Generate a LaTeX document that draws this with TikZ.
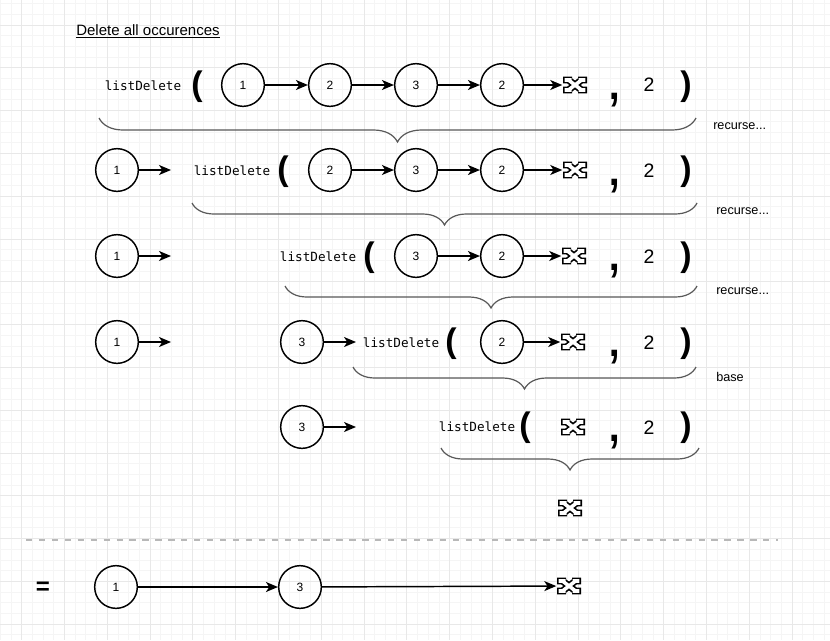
\documentclass[tikz,border=0pt]{standalone}
\usepackage{fontspec}
\setmainfont{Liberation Sans}
\setmonofont{DejaVu Sans Mono}
\usetikzlibrary{arrows.meta,decorations.pathreplacing}

\tikzset{
  gridminor/.style={draw=black!4,line width=0.75pt},
  gridmajor/.style={draw=black!9,line width=0.75pt},
  cnode/.style={circle,draw,line width=1.1pt,minimum size=32pt,inner sep=0pt,
    font=\fontsize{9}{9}\selectfont},
  fname/.style={inner sep=0pt,font=\ttfamily\fontsize{9.5}{10}\selectfont},
  paren/.style={inner sep=0pt,font=\fontsize{25.5}{26}\selectfont\bfseries},
  comma/.style={inner sep=0pt,font=\fontsize{44}{44}\selectfont},
  argval/.style={inner sep=0pt,font=\fontsize{14.6}{15}\selectfont},
  note/.style={anchor=west,inner sep=0pt,font=\fontsize{9.5}{10}\selectfont},
  nilbox/.style={inner sep=0pt,minimum width=18.75pt,minimum height=13pt},
  arr/.style={line width=1.1pt,-{Stealth[length=9pt,width=7.5pt,inset=2.5pt]}},
  brc/.style={decorate,draw=black!65,line width=0.9pt,
    decoration={brace,mirror,amplitude=#1}},
  brc/.default=16.5pt,
  sep/.style={draw=black!28,line width=1.5pt,dash pattern=on 4.7pt off 5pt},
  nilx/.pic={
    % outlined slab-serif cross marking the empty list
    \draw[line width=5.2pt,black]
      (-6.5,-5) -- (6.5,5) (6.5,-5) -- (-6.5,5)
      (-12,-5) -- (-3,-5) (3,-5) -- (12,-5)
      (-12,5) -- (-3,5) (3,5) -- (12,5);
    \draw[line width=2.7pt,white]
      (-6.5,-5) -- (6.5,5) (6.5,-5) -- (-6.5,5)
      (-10.4,-5) -- (-3.5,-5) (3.5,-5) -- (10.4,-5)
      (-10.4,5) -- (-3.5,5) (3.5,5) -- (10.4,5);
  }
}

\begin{document}
\begin{tikzpicture}[x=0.75pt,y=-0.75pt]
\useasboundingbox (0,0) rectangle (830,640);
\fill[white] (0,0) rectangle (830,640);

% background grid
\begin{scope}
\clip (0,0) rectangle (830,640);
\foreach \k in {-2,...,76} \draw[gridminor] ({21.7+\k*10.7},0) -- ({21.7+\k*10.7},640);
\foreach \k in {-3,...,58} \draw[gridminor] (0,{25+\k*10.7}) -- (830,{25+\k*10.7});
\foreach \k in {0,...,19} \draw[gridmajor] ({21.7+\k*42.8},0) -- ({21.7+\k*42.8},640);
\foreach \k in {-1,...,14} \draw[gridmajor] (0,{25+\k*42.8}) -- (830,{25+\k*42.8});
\end{scope}

% title
\node[anchor=base west,inner sep=0pt,font=\fontsize{11.25}{12}\selectfont] (title) at (76,35.5)
  {\underline{Delete all occurences}};

% ---- call 1
\node[fname] (ld1) at (143,86) {listDelete};
\node[paren] (lp1) at (197,87) {(};
\node[cnode] (a1) at (243,85) {1};
\node[cnode] (b1) at (330,85) {2};
\node[cnode] (c1) at (416,85) {3};
\node[cnode] (d1) at (502,85) {2};
\node[nilbox] (n1) at (575,85) {};
\pic at (n1.center) {nilx};
\node[comma] (cm1) at (615,100) {,};
\node[argval] (v1) at (649,85) {2};
\node[paren] (rp1) at (686,87) {)};
\draw[arr] (a1) -- (b1);
\draw[arr] (b1) -- (c1);
\draw[arr] (c1) -- (d1);
\draw[arr] (d1) -- (n1);
\coordinate (bl1) at (99,118);
\coordinate (br1) at (696,118);
\draw[brc=18pt] (bl1) -- (br1);
\node[note] (t1) at (713,126) {recurse...};

% ---- call 2
\node[cnode] (p2) at (117,170) {1};
\coordinate (e2) at (171,170);
\draw[arr] (p2) -- (e2);
\node[fname] (ld2) at (232,171) {listDelete};
\node[paren] (lp2) at (283,172) {(};
\node[cnode] (b2) at (330,170) {2};
\node[cnode] (c2) at (416,170) {3};
\node[cnode] (d2) at (502,170) {2};
\node[nilbox] (n2) at (575,170) {};
\pic at (n2.center) {nilx};
\node[comma] (cm2) at (615,186) {,};
\node[argval] (v2) at (649,171) {2};
\node[paren] (rp2) at (686,172) {)};
\draw[arr] (b2) -- (c2);
\draw[arr] (c2) -- (d2);
\draw[arr] (d2) -- (n2);
\coordinate (bl2) at (192,203);
\coordinate (br2) at (697,203);
\draw[brc] (bl2) -- (br2);
\node[note] (t2) at (716,211) {recurse...};

% ---- call 3
\node[cnode] (p3) at (117,256) {1};
\coordinate (e3) at (171,256);
\draw[arr] (p3) -- (e3);
\node[fname] (ld3) at (318,257) {listDelete};
\node[paren] (lp3) at (369,258) {(};
\node[cnode] (c3) at (416,256) {3};
\node[cnode] (d3) at (502,256) {2};
\node[nilbox] (n3) at (574,256) {};
\pic at (n3.center) {nilx};
\node[comma] (cm3) at (615,271) {,};
\node[argval] (v3) at (649,257) {2};
\node[paren] (rp3) at (686,258) {)};
\draw[arr] (c3) -- (d3);
\draw[arr] (d3) -- (n3);
\coordinate (bl3) at (285,286);
\coordinate (br3) at (697,286);
\draw[brc] (bl3) -- (br3);
\node[note] (t3) at (716,291) {recurse...};

% ---- call 4
\node[cnode] (p4) at (117,342) {1};
\coordinate (e4) at (171,342);
\draw[arr] (p4) -- (e4);
\node[cnode] (q4) at (302,342) {3};
\coordinate (f4) at (356,342);
\draw[arr] (q4) -- (f4);
\node[fname] (ld4) at (401,343) {listDelete};
\node[paren] (lp4) at (451,344) {(};
\node[cnode] (d4) at (502,342) {2};
\node[nilbox] (n4) at (573,342) {};
\pic at (n4.center) {nilx};
\node[comma] (cm4) at (615,357) {,};
\node[argval] (v4) at (649,343) {2};
\node[paren] (rp4) at (686,344) {)};
\draw[arr] (d4) -- (n4);
\coordinate (bl4) at (353,367);
\coordinate (br4) at (696,367);
\draw[brc] (bl4) -- (br4);
\node[note] (t4) at (716,377) {base};

% ---- call 5 (base case)
\node[cnode] (q5) at (302,427) {3};
\coordinate (f5) at (356,427);
\draw[arr] (q5) -- (f5);
\node[fname] (ld5) at (477,427) {listDelete};
\node[paren] (lp5) at (525,428) {(};
\node[nilbox] (n5) at (573,427) {};
\pic at (n5.center) {nilx};
\node[comma] (cm5) at (615,442) {,};
\node[argval] (v5) at (649,428) {2};
\node[paren] (rp5) at (686,428) {)};
\coordinate (bl5) at (441,448);
\coordinate (br5) at (699,448);
\draw[brc] (bl5) -- (br5);

% result of the base case
\node[nilbox] (n6) at (570,508) {};
\pic at (n6.center) {nilx};

% separator
\coordinate (sepl) at (26,539.5);
\coordinate (sepr) at (778,539.5);
\draw[sep] (sepl) -- (sepr);

% final list
\node[inner sep=0pt,font=\fontsize{18}{18}\selectfont\bfseries] (eq) at (43,588) {=};
\node[cnode] (s1) at (116,587) {1};
\node[cnode] (s3) at (300,587) {3};
\node[nilbox] (n7) at (569,586) {};
\pic at (n7.center) {nilx};
\draw[arr] (s1) -- (s3);
\draw[arr] (s3) -- (n7);
\end{tikzpicture}
\end{document}
